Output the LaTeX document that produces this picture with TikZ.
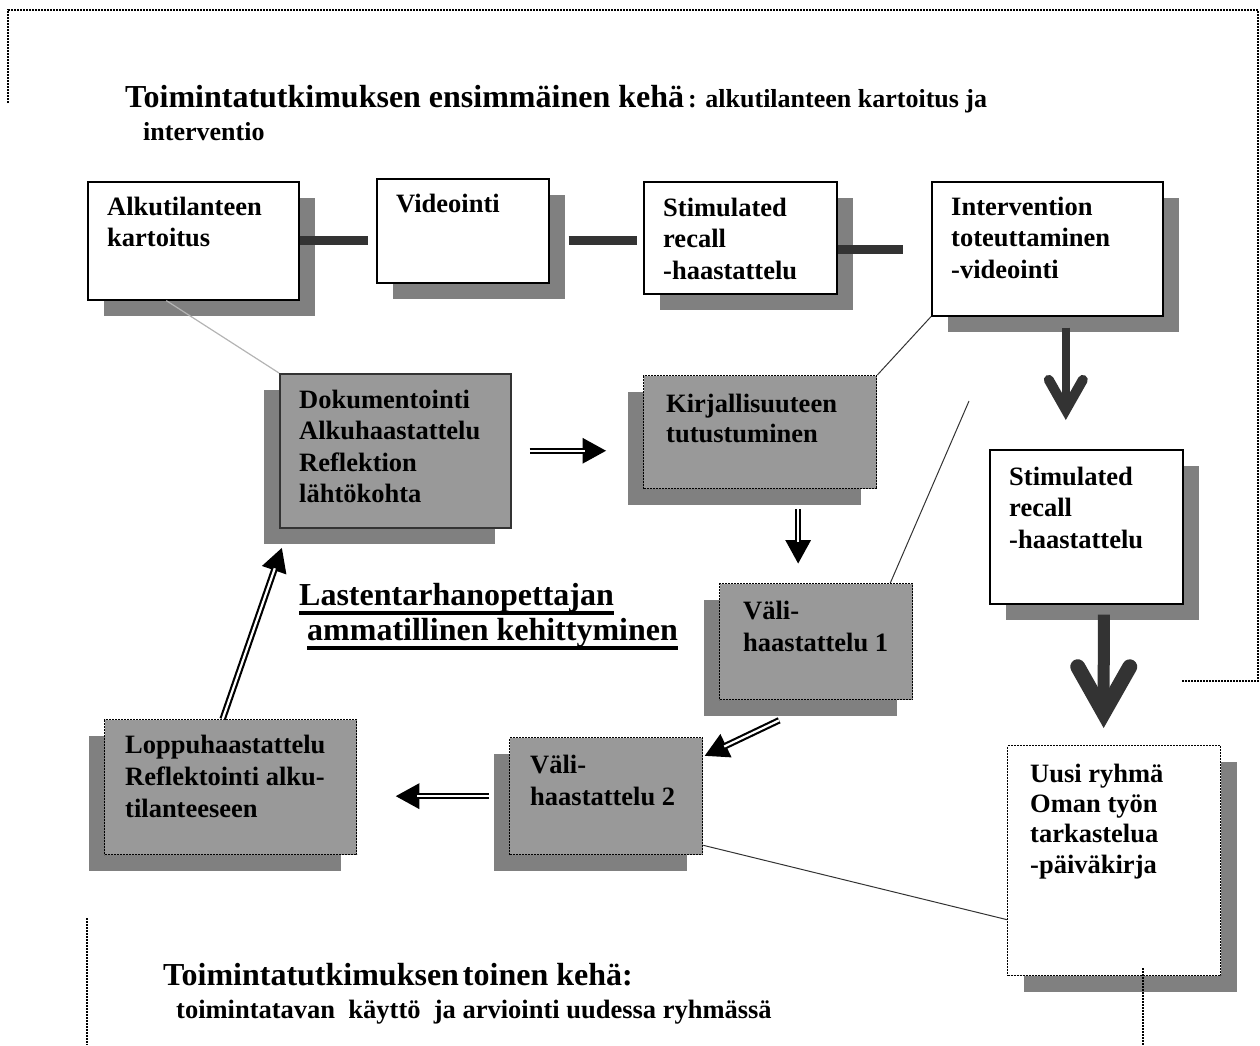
\documentclass[tikz,border=0pt]{standalone}
\usepackage{fontspec}
\setmainfont{Liberation Serif}
\usetikzlibrary{arrows.meta,shadows,calc}
\definecolor{boxgray}{HTML}{999999}
\definecolor{shadowgray}{HTML}{808080}
\definecolor{bardark}{HTML}{333333}
\definecolor{lightline}{HTML}{B4B4B4}
\newcommand{\lbfont}{\fontsize{26.5}{31.5}\selectfont\bfseries}
\newcommand{\lstrut}{\rule{0pt}{20pt}}
\begin{document}
\begin{tikzpicture}[x=1pt,y=-1pt,
  wbox/.style={draw=black, line width=1.6pt, fill=white, anchor=north west, inner sep=0pt,
    general shadow={fill=shadowgray, shadow xshift=16pt, shadow yshift=-16pt}},
  wdbox/.style={draw=black, line width=1.3pt, dash pattern=on 2pt off 1pt, fill=white, anchor=north west, inner sep=0pt,
    general shadow={fill=shadowgray, shadow xshift=16pt, shadow yshift=-16pt}},
  gbox/.style={draw=black, line width=1.3pt, dash pattern=on 2pt off 1pt, fill=boxgray, anchor=north west, inner sep=0pt,
    general shadow={fill=shadowgray, shadow xshift=-16pt, shadow yshift=-16pt}},
  gsbox/.style={draw=bardark, line width=1.5pt, fill=boxgray, anchor=north west, inner sep=0pt,
    general shadow={fill=shadowgray, shadow xshift=-16pt, shadow yshift=-16pt}},
  lbl/.style={anchor=north west, inner sep=0pt, align=left, font=\lbfont},
  bar/.style={draw=bardark, line width=9pt},
  fatarrow/.style={draw=bardark, line width=8pt, -{Straight Barb[length=30pt,width=34pt,line width=10pt,line cap=round,line join=miter]}},
  fatarrowb/.style={draw=bardark, line width=12pt, -{Straight Barb[length=46pt,width=52pt,line width=15pt,line cap=round,line join=miter]}},
  dblarrow/.style={draw=black, line width=6.5pt, -{Triangle[length=24pt,width=24pt]},
    postaction={draw=white, line width=2.2pt, -, shorten >=22pt}},
  thinline/.style={draw=bardark, line width=1pt},
  frame/.style={draw=black, line width=1.2pt, dash pattern=on 2pt off 1pt},
]
\useasboundingbox (0,0) rectangle (1260,1045);

% outer frame pieces
\coordinate (fa) at (8,103);
\coordinate (fb) at (8,10);
\coordinate (fc) at (1258,10);
\coordinate (fd) at (1258,681);
\coordinate (fe) at (1182,681);
\draw[frame] (fa) -- (fb) -- (fc) -- (fd) -- (fe);
\coordinate (fg) at (87,918);
\coordinate (fh) at (87,1045);
\draw[frame] (fg) -- (fh);

% titles
\node[anchor=base west, inner sep=0pt, font=\fontsize{32}{36}\selectfont\bfseries] (t1) at (125,107)
  {Toimintatutkimuksen ensimmäinen kehä\kern4pt{\fontsize{26}{30}\selectfont: alkutilanteen kartoitus ja}};
\node[anchor=base west, inner sep=0pt, font=\fontsize{26}{30}\selectfont\bfseries] (t1b) at (143,140) {interventio};

% top row boxes
\node[wbox, minimum width=211pt, minimum height=118pt] (A) at (87,181) {};
\node[wbox, minimum width=172pt, minimum height=104pt] (V) at (376,178) {};
\node[wbox, minimum width=193pt, minimum height=112pt] (S1) at (643,181) {};
\node[wbox, minimum width=231pt, minimum height=134pt] (I) at (931,181) {};
\node[lbl] (At) at (107,195) {\lstrut Alkutilanteen\\kartoitus};
\node[lbl] (Vt) at (396,192) {\lstrut Videointi};
\node[lbl] (S1t) at (663,196) {\lstrut Stimulated\\recall\\-haastattelu};
\node[lbl] (It) at (951,195) {\lstrut Intervention\\toteuttaminen\\-videointi};

% bars
\draw[bar, shorten >=8pt] (A.east) -- (A.east -| V.west);
\draw[bar, shorten <=19pt, shorten >=6pt] (A.east -| V.east) -- (A.east -| S1.west);
\draw[bar, shorten >=28pt] ([shift={(0,12)}]S1.east) -- ([shift={(0,12)}]S1.east -| I.west);

% right column
\node[wbox, minimum width=193pt, minimum height=154pt] (S2) at (989,449) {};
\node[lbl] (S2t) at (1009,465) {\lstrut Stimulated\\recall\\-haastattelu};
\node[wdbox, minimum width=213pt, minimum height=230pt] (U) at (1007,745) {};
\node[lbl, font=\fontsize{26.5}{30.3}\selectfont\bfseries] (Ut) at (1030,762) {\lstrut Uusi ryhmä\\Oman työn\\tarkastelua\\-päiväkirja};
\draw[fatarrow] ([shift={(18.5,11)}]I.south) -- ([shift={(-20.5,-29)}]S2.north);
\draw[fatarrowb] ([shift={(17.5,10)}]S2.south) -- ([shift={(-10.5,-17)}]U.north);
\coordinate (fi) at (1143,968);
\coordinate (fj) at (1143,1045);
\draw[frame] (fi) -- (fj);

% gray boxes
\node[gsbox, minimum width=231pt, minimum height=154pt] (D) at (279,373) {};
\node[gbox, minimum width=233pt, minimum height=113pt] (K) at (643,375) {};
\node[gbox, minimum width=193pt, minimum height=116pt] (V1) at (719,583) {};
\node[gbox, minimum width=193pt, minimum height=117pt] (V2) at (509,737) {};
\node[gbox, minimum width=252pt, minimum height=135pt] (L) at (104,719) {};
\node[lbl] (Dt) at (299,388) {\lstrut Dokumentointi\\Alkuhaastattelu\\Reflektion\\lähtökohta};
\node[lbl, font=\fontsize{26.5}{30}\selectfont\bfseries] (Kt) at (666,392) {\lstrut Kirjallisuuteen\\tutustuminen};
\node[lbl, font=\fontsize{26.5}{32}\selectfont\bfseries] (V1t) at (743,599) {\lstrut Väli-\\haastattelu 1};
\node[lbl, font=\fontsize{26.5}{32}\selectfont\bfseries] (V2t) at (530,753) {\lstrut Väli-\\haastattelu 2};
\node[lbl, font=\fontsize{26.5}{32}\selectfont\bfseries] (Lt) at (125,733) {\lstrut Loppuhaastattelu\\Reflektointi alku-\\tilanteeseen};

% thin connecting lines
\draw[draw=lightline, line width=1.2pt] ([shift={(-27,0)}]A.south) -- (D.north west);
\draw[thinline] (K.north east) -- (I.south west);
\coordinate (f1) at (969,401);
\draw[thinline] (f1) -- ([shift={(-23,0)}]V1.north east);
\draw[thinline] ([shift={(0,-10)}]V2.south east) -- ([shift={(0,59)}]U.west);

% double arrows
\draw[dblarrow] ([shift={(18,0)}]D.east) -- ([shift={(95,0)}]D.east);
\draw[dblarrow] ([shift={(38,20)}]K.south) -- ([shift={(-18,-19)}]V1.north);
\draw[dblarrow] ([shift={(-37,20)}]V1.south) -- ([shift={(1,19)}]V2.north east);
\draw[dblarrow] ([shift={(-20,0)}]V2.west) -- ([shift={(38,0)}]V2.west -| L.east);
\draw[dblarrow] ([shift={(-8,0)}]L.north) -- ([shift={(3,19)}]D.south west);

% central heading
\node[anchor=base west, inner sep=0pt, font=\fontsize{32}{36}\selectfont\bfseries] (h1) at (299,605) {Lastentarhanopettajan};
\node[anchor=base west, inner sep=0pt, font=\fontsize{32}{36}\selectfont\bfseries] (h2) at (307,640) {ammatillinen kehittyminen};
\draw[line width=3.5pt] ([shift={(0,8)}]h1.base west) -- ([shift={(0,8)}]h1.base east);
\draw[line width=3.5pt] ([shift={(0,8)}]h2.base west) -- ([shift={(0,8)}]h2.base east);

% bottom titles
\node[anchor=base west, inner sep=0pt, font=\fontsize{32}{36}\selectfont\bfseries] (t2) at (163,985)
  {Toimintatutkimuksen\hspace{4pt}toinen kehä:};
\node[anchor=base west, inner sep=0pt, font=\fontsize{26.5}{30}\selectfont\bfseries] (t2b) at (176,1018)
  {toimintatavan\ \ käyttö\ \ ja arviointi uudessa ryhmässä};
\end{tikzpicture}
\end{document}
